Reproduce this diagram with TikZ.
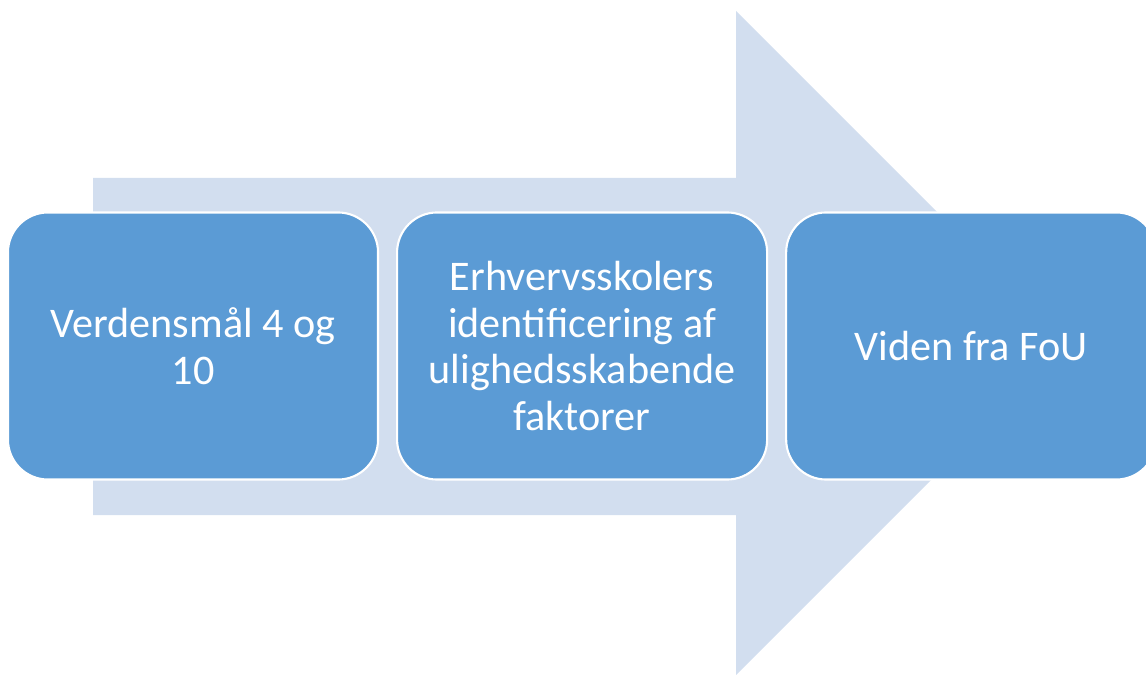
\documentclass[tikz,border=0pt]{standalone}
\usepackage{fontspec}
\setmainfont{Carlito}
\usepackage{tikz}
\usetikzlibrary{positioning}
\definecolor{stepblue}{HTML}{5B9BD5}
\definecolor{arrowblue}{HTML}{D2DEEF}

\begin{document}
\begin{tikzpicture}[x=0.025cm, y=-0.025cm, node distance=0.475cm,
  every node/.style={draw=white, line width=1.5pt, fill=stepblue, rounded corners=1cm,
    minimum width=9.25cm, minimum height=6.675cm, outer sep=0pt, align=center,
    text=white, font=\fontsize{30}{33.4}\selectfont}]
  \useasboundingbox (0,0) rectangle (1146,675);
  \clip (0,0) rectangle (1146,675);
  % big arrow behind the steps
  \fill[arrowblue] (93,178) -- (736,178) -- (736,11) -- (1068,343)
    -- (736,675) -- (736,515) -- (93,515) -- cycle;
  \node (goals) at (193,346) {Verdensmål 4 og\\10};
  \node[right=of goals] (schools) {Erhvervsskolers\\identificering af\\ulighedsskabende\\faktorer};
  \node[right=of schools] (research) {Viden fra FoU};
\end{tikzpicture}
\end{document}
